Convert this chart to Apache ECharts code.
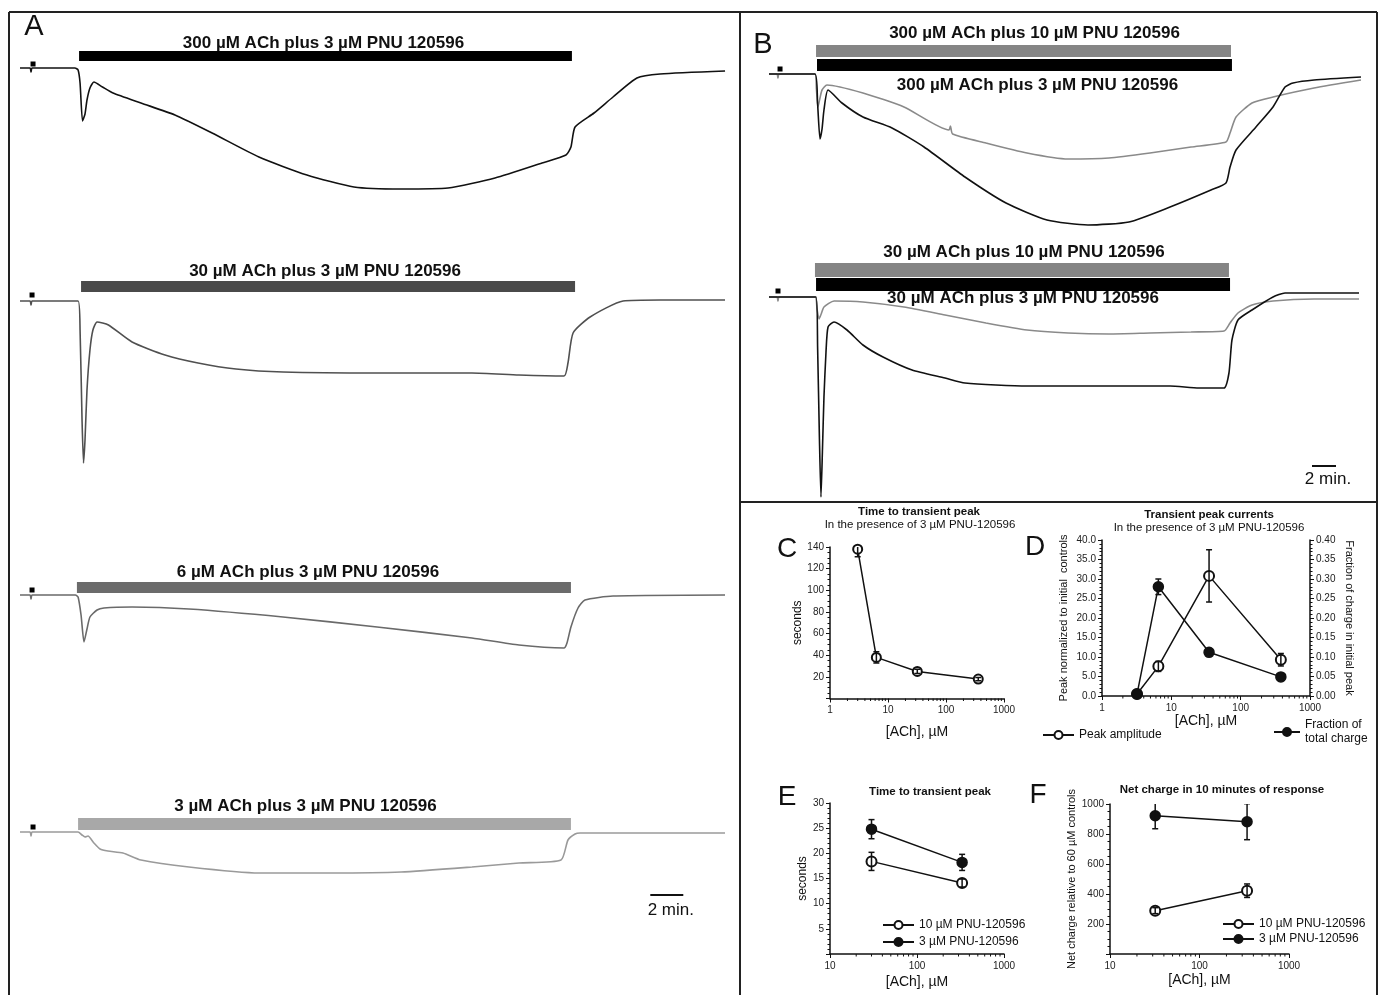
<!DOCTYPE html>
<html><head><meta charset="utf-8">
<script src="https://cdn.jsdelivr.net/npm/echarts@6/dist/echarts.min.js"></script>
<style>html,body{margin:0;padding:0;background:#fff}#c{width:1379px;height:995px}</style>
</head><body><div id="c"></div><script>
// ---------------- DATA ----------------
// Panel A traces: [time (min), current (arbitrary units, inward = negative)]
const traceA300 = [[0,0],[0.61,0],[0.67,-0.4],[0.73,0],[3.33,0],[3.52,-0.2],[3.64,-1.5],[3.79,-5.3],[3.94,-4.6],[4.06,-3.2],[4.24,-2.0],[4.48,-1.4],[5.0,-1.9],[5.64,-2.5],[7.33,-3.5],[9.39,-4.7],[11.64,-6.5],[14.48,-8.9],[17.39,-10.7],[20.24,-11.9],[23.09,-12.1],[25.94,-12.0],[28.79,-11.0],[31.64,-9.5],[33.09,-8.7],[33.39,-7.9],[33.64,-5.9],[34.79,-4.5],[35.94,-2.9],[37.39,-1.0],[38.79,-0.6],[42.73,-0.3]];
const traceA30 = [[0,0],[0.61,0],[0.67,-0.4],[0.73,0],[3.52,0],[3.64,-2.9],[3.76,-11.9],[3.85,-16.2],[3.94,-13.9],[4.06,-8.9],[4.24,-4.9],[4.42,-2.9],[4.67,-2.1],[5.36,-2.4],[6.79,-4.1],[8.79,-5.4],[10.79,-6.2],[13.09,-6.8],[15.94,-7.1],[21.64,-7.2],[27.39,-7.2],[30.24,-7.4],[32.97,-7.5],[33.21,-6.2],[33.52,-3.2],[34.55,-1.6],[36.55,0],[38.79,0.1],[42.73,0.1]];
const traceA6 = [[0,0],[0.61,0],[0.67,-0.4],[0.73,0],[3.36,0],[3.52,-0.2],[3.7,-2.0],[3.88,-4.7],[4.06,-3.4],[4.24,-2.2],[4.67,-1.5],[5.09,-1.3],[6.79,-1.2],[10.24,-1.4],[15.94,-2.2],[21.64,-3.2],[27.39,-4.3],[30.24,-5.0],[32.97,-5.3],[33.15,-4.8],[33.39,-3.2],[33.82,-1.3],[34.24,-0.5],[35.94,-0.1],[42.73,0]];
const traceA3 = [[0,0],[0.61,0],[0.67,-0.4],[0.73,0],[3.52,0],[3.76,-0.3],[3.94,-0.5],[4.12,-0.4],[4.48,-1.1],[4.85,-1.7],[5.33,-1.9],[6.24,-2.1],[7.33,-2.8],[10.24,-3.5],[14.48,-4.1],[18.79,-4.1],[23.09,-4.0],[27.39,-3.5],[30.24,-3.1],[32.79,-2.8],[33.21,-0.8],[33.64,-0.2],[33.94,-0.1],[42.73,-0.1]];
// Panel B traces
const traceB300PNU10 = [[0,0],[0.67,0],[0.75,-0.4],[0.83,0],[3.83,0],[3.95,-1.5],[4.08,-3.3],[4.25,-2.4],[4.42,-1.6],[4.83,-1.1],[7.83,-1.9],[11.25,-3.3],[15.0,-5.6],[15.12,-5.2],[15.3,-6.0],[18.08,-6.9],[21.5,-7.9],[24.92,-8.5],[28.33,-8.4],[31.75,-7.9],[35.17,-7.3],[38.08,-6.8],[38.42,-5.9],[38.92,-4.3],[40.25,-2.9],[42.0,-2.3],[45.42,-1.4],[49.33,-0.6]];
const traceB300PNU3 = [[0,0],[3.83,0],[4.05,-3.0],[4.25,-6.5],[4.42,-5.5],[4.58,-3.6],[4.92,-1.6],[6.08,-2.9],[7.83,-4.3],[10.25,-5.4],[12.92,-7.3],[16.33,-10.3],[19.75,-12.9],[23.17,-14.6],[26.58,-15.1],[30.0,-14.8],[33.42,-13.3],[36.83,-11.6],[38.08,-10.9],[38.42,-9.3],[38.92,-7.6],[40.58,-5.3],[42.0,-3.3],[43.0,-1.3],[43.67,-0.9],[45.42,-0.6],[49.33,-0.3]];
const traceB30PNU10 = [[0,0],[0.67,0],[0.75,-0.4],[0.83,0],[3.83,0],[4.0,-1.2],[4.17,-2.2],[4.35,-1.7],[4.58,-1.0],[5.42,-0.4],[7.83,-0.5],[11.25,-1.0],[14.67,-1.8],[18.08,-2.6],[21.5,-3.3],[24.92,-3.6],[28.33,-3.7],[31.75,-3.6],[35.17,-3.5],[37.92,-3.4],[38.42,-2.6],[39.08,-1.6],[40.25,-0.8],[42.0,-0.4],[45.42,-0.2],[49.17,-0.2]];
const traceB30PNU3 = [[0,0],[3.92,0],[4.05,-5.0],[4.2,-14.0],[4.33,-20.0],[4.45,-15.5],[4.58,-10.0],[4.75,-5.5],[4.92,-3.0],[5.42,-2.5],[6.5,-3.3],[7.83,-4.8],[9.5,-6.0],[11.92,-7.3],[14.67,-8.1],[16.33,-8.6],[21.5,-8.9],[28.33,-8.9],[33.42,-8.9],[35.83,-9.1],[37.92,-9.1],[38.33,-7.6],[38.58,-4.3],[39.08,-2.3],[40.25,-1.3],[42.0,0],[43.0,0.4],[45.42,0.4],[49.17,0.4]];
// Drug application windows [start, end] (min)
const appA = [[3.58,33.45],[3.70,33.64],[3.45,33.39],[3.52,33.39]];
const appB300 = [[3.92,38.5],[4.0,38.58]];
const appB30 = [[3.83,38.33],[3.92,38.42]];
const labelsA = ['300 µM ACh plus 3 µM PNU 120596','30 µM ACh plus 3 µM PNU 120596','6 µM ACh plus 3 µM PNU 120596','3 µM ACh plus 3 µM PNU 120596'];
const labelsB300 = ['300 µM ACh plus 10 µM PNU 120596','300 µM ACh plus 3 µM PNU 120596'];
const labelsB30 = ['30 µM ACh plus 10 µM PNU 120596','30 µM ACh plus 3 µM PNU 120596'];
const controlPulseA = [0.79,0.73,0.73,0.79];
const controlPulseB = [0.92,0.75];
const scaleBarMinutes = 2;
const scaleBarLabel = '2 min.';
// Panel C
const concC = [3, 6.3, 32, 360];
const ttpC = [138, 38, 25, 18];
const ttpCErr = [7, 5.3, 2, 1.5];
// Panel D
const concD = [3.2, 6.5, 35, 380];
const peakAmpD = [0.5, 7.6, 30.8, 9.3];
const peakAmpDErr = [0, 1.3, 6.7, 1.6];
const fracChargeD = [0.005, 0.28, 0.112, 0.049];
const fracChargeDErr = [0, 0.02, 0, 0];
// Panel E
const concE = [30, 330];
const ttpE10 = [18.4, 14.1];
const ttpE10Err = [1.8, 0.8];
const ttpE3 = [24.8, 18.2];
const ttpE3Err = [1.9, 1.6];
// Panel F
const concF = [32, 340];
const chargeF10 = [289, 422];
const chargeF10Err = [20, 45];
const chargeF3 = [922, 882];
const chargeF3Err = [87, 120];
// log minor tick values
const minorTicks1to1000 = [2,3,4,5,6,7,8,9,20,30,40,50,60,70,80,90,200,300,400,500,600,700,800,900];
const minorTicks10to1000 = [20,30,40,50,60,70,80,90,200,300,400,500,600,700,800,900];

// ---------------- LAYOUT ----------------
const FONT = '"Liberation Sans", Arial, Helvetica, sans-serif';
const PXU = 10; // px per current unit
const traceGrids = [
  {left:20, width:709.5, tmax:43, top:35, h:165, base:68},
  {left:20, width:709.5, tmax:43, top:255, h:220, base:301},
  {left:20, width:709.5, tmax:43, top:555, h:105, base:595},
  {left:20, width:709.5, tmax:43, top:790, h:140, base:832},
  {left:769, width:600, tmax:50, top:20, h:215, base:74},
  {left:769, width:600, tmax:50, top:240, h:260, base:297}
];
const barSpecsA = [
  [{y:51,h:10,ly:43,dx:-2,color:'#000'}],
  [{y:281,h:11,ly:271,dx:-3,color:'#4a4a4a'}],
  [{y:582,h:11,ly:572,dx:-16,color:'#6b6b6b'}],
  [{y:818,h:12,ly:806,dx:-19,color:'#a8a8a8'}]
];
const barSpecsB300 = [{y:45,h:12,ly:33,dx:11,color:'#858585'},{y:59,h:12,ly:85,dx:13,color:'#000'}];
const barSpecsB30 = [{y:263,h:14,ly:252,dx:2,color:'#858585'},{y:278,h:13,ly:298,dx:0,color:'#000'}];
const pulseLift = [4,6,5,5,5,6];

const grids = [], xAxes = [], yAxes = [], series = [];
traceGrids.forEach((g,i)=>{
  grids.push({left:g.left, top:g.top, width:g.width, height:g.h});
  xAxes.push({type:'value', gridIndex:i, min:0, max:g.tmax, show:false});
  yAxes.push({type:'value', gridIndex:i, max:(g.base-g.top)/PXU, min:-(g.top+g.h-g.base)/PXU, show:false});
});

function traceSeries(gi, data, color, w){
  return {type:'line', xAxisIndex:gi, yAxisIndex:gi, data:data, showSymbol:false, symbol:'none',
    smooth:0.2, silent:true, z:4, lineStyle:{color:color, width:w||1.6}};
}
function barSeries(gi, windows, specs, labels){
  return {type:'custom', xAxisIndex:gi, yAxisIndex:gi, silent:true, z:3,
    data: windows.map((w,i)=>[w[0], w[1], i]),
    encode:{x:[0,1]},
    renderItem:(p, api)=>{
      const i = api.value(2), sp = specs[i];
      const s = api.coord([api.value(0),0]), e = api.coord([api.value(1),0]);
      return {type:'group', children:[
        {type:'rect', shape:{x:s[0], y:sp.y, width:e[0]-s[0], height:sp.h}, style:{fill:sp.color}},
        {type:'text', x:(s[0]+e[0])/2+sp.dx, y:sp.ly, style:{text:labels[i], font:'bold 17px '+FONT, fill:'#111', align:'center', verticalAlign:'middle', textAlign:'center', textVerticalAlign:'middle'}}
      ]};
    }};
}
function pulseSeries(gi, t, lift){
  return {type:'custom', xAxisIndex:gi, yAxisIndex:gi, silent:true, z:5, data:[[t,0]],
    renderItem:(p,api)=>{const c = api.coord([api.value(0), api.value(1)]);
      return {type:'rect', shape:{x:c[0]-2.5, y:c[1]-lift-2.5, width:5, height:5}, style:{fill:'#000'}};}};
}
function scaleSeries(gi, t0, y, ty){
  return {type:'custom', xAxisIndex:gi, yAxisIndex:gi, silent:true, z:5, data:[[t0, t0+scaleBarMinutes]],
    encode:{x:[0,1]},
    renderItem:(p,api)=>{const s = api.coord([api.value(0),0]), e = api.coord([api.value(1),0]);
      return {type:'group', children:[
        {type:'line', shape:{x1:s[0], y1:y, x2:e[0], y2:y}, style:{stroke:'#111', lineWidth:2}},
        {type:'text', x:(s[0]+e[0])/2+4, y:ty, style:{text:scaleBarLabel, font:'17px '+FONT, fill:'#111', align:'center', verticalAlign:'middle', textAlign:'center', textVerticalAlign:'middle'}}
      ]};}};
}

// Panel A
[traceA300, traceA30, traceA6, traceA3].forEach((tr,i)=>{
  const colors = ['#111','#505050','#6a6a6a','#9a9a9a'];
  series.push(traceSeries(i, tr, colors[i]));
  series.push(barSeries(i, [appA[i]], barSpecsA[i], [labelsA[i]]));
  series.push(pulseSeries(i, controlPulseA[i], pulseLift[i]));
});
series.push(scaleSeries(3, 38.2, 895, 910));
// Panel B
series.push(traceSeries(4, traceB300PNU10, '#8a8a8a'));
series.push(traceSeries(4, traceB300PNU3, '#111'));
series.push(barSeries(4, appB300, barSpecsB300, labelsB300));
series.push(pulseSeries(4, controlPulseB[0], pulseLift[4]));
series.push(traceSeries(5, traceB30PNU10, '#8a8a8a'));
series.push(traceSeries(5, traceB30PNU3, '#111'));
series.push(barSeries(5, appB30, barSpecsB30, labelsB30));
series.push(pulseSeries(5, controlPulseB[1], pulseLift[5]));
series.push(scaleSeries(5, 45.25, 466, 479));

// ---------- small plots ----------
const AX = '#111';
function logX(gi, min, max, gap){
  return {type:'log', logBase:10, gridIndex:gi, min:min, max:max,
    name:'[ACh], µM', nameLocation:'middle', nameGap:gap,
    nameTextStyle:{fontSize:14, color:'#111', fontFamily:FONT},
    axisLine:{show:true, onZero:false, lineStyle:{color:AX, width:1.5}},
    axisTick:{show:true, inside:false, length:4, lineStyle:{color:AX, width:1}},
    minorTick:{show:false}, splitLine:{show:false},
    axisLabel:{fontSize:10, color:'#222', margin:7, fontFamily:FONT, formatter:v=>String(Math.round(v))}};
}
function valY(gi, min, max, interval, minorSplit, name, gap, fmt, pos, rot, nameSize){
  return {type:'value', gridIndex:gi, min:min, max:max, interval:interval, position:pos||'left',
    name:name, nameLocation:'middle', nameGap:gap, nameRotate:rot,
    nameTextStyle:{fontSize:nameSize||12, color:'#111', fontFamily:FONT},
    axisLine:{show:true, onZero:false, lineStyle:{color:AX, width:1.5}},
    axisTick:{show:true, inside:false, length:4, lineStyle:{color:AX, width:1}},
    minorTick:{show:true, splitNumber:minorSplit, length:2.5, lineStyle:{color:AX, width:1}},
    splitLine:{show:false}, minorSplitLine:{show:false},
    axisLabel:{fontSize:10, color:'#222', margin:6, fontFamily:FONT, formatter:fmt}};
}
const hide0 = v => v===0 ? '' : String(v);
// grids 6..9
grids.push({left:830, top:547, width:174, height:151.5});   // C
grids.push({left:1102, top:540, width:208, height:156});    // D
grids.push({left:830, top:803, width:174, height:151});     // E
grids.push({left:1110, top:804, width:179, height:150});    // F
xAxes.push(logX(6, 1, 1000, 27));
xAxes.push(logX(7, 1, 1000, 15));
xAxes.push(logX(8, 10, 1000, 21));
xAxes.push(logX(9, 10, 1000, 19));
yAxes.push(valY(6, 0, 140, 20, 4, 'seconds', 18, hide0, 'left', 90, 12));                       // 6
yAxes.push(valY(7, 0, 40, 5, 5, 'Peak normalized to initial  controls', 33, v=>v.toFixed(1), 'left', 90, 11)); // 7
yAxes.push(valY(7, 0, 0.4, 0.05, 5, 'Fraction of charge in initial peak', 34, v=>v.toFixed(2), 'right', -90, 11)); // 8
yAxes.push(valY(8, 0, 30, 5, 5, 'seconds', 20, hide0, 'left', 90, 12));                          // 9
yAxes.push(valY(9, 0, 1000, 200, 4, 'Net charge relative to 60 µM controls', 25, hide0, 'left', 90, 11)); // 10

function minorLog(xi, yi, vals){
  return {type:'custom', xAxisIndex:xi, yAxisIndex:yi, silent:true, z:2, data:vals.map(v=>[v,0]),
    renderItem:(p,api)=>{const c = api.coord([api.value(0), api.value(1)]);
      return {type:'line', shape:{x1:c[0], y1:c[1], x2:c[0], y2:c[1]+2.5}, style:{stroke:AX, lineWidth:1}};}};
}
function errSeries(xi, yi, xs, ys, err){
  return {type:'custom', xAxisIndex:xi, yAxisIndex:yi, silent:true, z:6, clip:true,
    data: xs.map((x,i)=>[x, ys[i]-err[i], ys[i]+err[i]]).filter((d,i)=>err[i]>0),
    encode:{x:0, y:[1,2]},
    renderItem:(p,api)=>{
      const lo = api.coord([api.value(0), api.value(1)]), hi = api.coord([api.value(0), api.value(2)]);
      const st = {stroke:'#111', lineWidth:1.5}, w = 3;
      return {type:'group', children:[
        {type:'line', shape:{x1:lo[0], y1:lo[1], x2:hi[0], y2:hi[1]}, style:st},
        {type:'line', shape:{x1:lo[0]-w, y1:lo[1], x2:lo[0]+w, y2:lo[1]}, style:st},
        {type:'line', shape:{x1:hi[0]-w, y1:hi[1], x2:hi[0]+w, y2:hi[1]}, style:st}
      ]};
    }};
}
function pts(name, xi, yi, xs, ys, filled, size){
  return {type:'line', name:name, xAxisIndex:xi, yAxisIndex:yi, data:xs.map((x,i)=>[x, ys[i]]),
    symbol: filled ? 'circle' : 'emptyCircle', symbolSize:size||10, showSymbol:true, z:5,
    lineStyle:{color:'#111', width:1.5},
    itemStyle:{color:'#111', borderColor:'#111', borderWidth:1.5}};
}
// C
series.push(minorLog(6, 6, minorTicks1to1000));
series.push(pts('C', 6, 6, concC, ttpC, false, 9));
series.push(errSeries(6, 6, concC, ttpC, ttpCErr));
// D
series.push(minorLog(7, 7, minorTicks1to1000));
series.push(pts('Peak amplitude', 7, 7, concD, peakAmpD, false, 10));
series.push(pts('Fraction of\ntotal charge', 7, 8, concD, fracChargeD, true, 10));
series.push(errSeries(7, 7, concD, peakAmpD, peakAmpDErr));
series.push(errSeries(7, 8, concD, fracChargeD, fracChargeDErr));
// E
series.push(minorLog(8, 9, minorTicks10to1000));
series.push(pts('10 µM PNU-120596', 8, 9, concE, ttpE10, false, 10));
series.push(pts('3 µM PNU-120596', 8, 9, concE, ttpE3, true, 10));
series.push(errSeries(8, 9, concE, ttpE10, ttpE10Err));
series.push(errSeries(8, 9, concE, ttpE3, ttpE3Err));
// F
series.push(minorLog(9, 10, minorTicks10to1000));
series.push(pts('10 µM PNU-120596', 9, 10, concF, chargeF10, false, 10));
series.push(pts('3 µM PNU-120596', 9, 10, concF, chargeF3, true, 10));
series.push(errSeries(9, 10, concF, chargeF10, chargeF10Err));
series.push(errSeries(9, 10, concF, chargeF3, chargeF3Err));

const legStyle = {fontSize:12, color:'#111', fontFamily:FONT, lineHeight:14};
const legends = [
  {data:['Peak amplitude'], left:1042, top:728, itemWidth:31, itemHeight:10, itemGap:4, selectedMode:false, textStyle:legStyle, padding:0},
  {data:['Fraction of\ntotal charge'], left:1273, top:718, itemWidth:26, itemHeight:10, selectedMode:false, textStyle:legStyle, padding:0},
  {data:['10 µM PNU-120596','3 µM PNU-120596'], orient:'vertical', left:882, top:918, itemWidth:31, itemHeight:10, itemGap:3, selectedMode:false, textStyle:legStyle, padding:0},
  {data:['10 µM PNU-120596','3 µM PNU-120596'], orient:'vertical', left:1222, top:917, itemWidth:31, itemHeight:10, itemGap:1, selectedMode:false, textStyle:legStyle, padding:0}
];

function gtext(x, y, text, font){
  return {type:'text', x:x, y:y, silent:true, style:{text:text, font:font, fill:'#111', align:'center', verticalAlign:'middle', textAlign:'center', textVerticalAlign:'middle'}};
}
function gline(x1,y1,x2,y2){
  return {type:'line', silent:true, shape:{x1,y1,x2,y2}, style:{stroke:'#222', lineWidth:2}};
}
const graphic = [
  gline(9,12,1377,12), gline(9,12,9,995), gline(1377,12,1377,995), gline(740,12,740,995), gline(740,502,1377,502),
  gtext(34,27,'A','29px '+FONT), gtext(763,45,'B','29px '+FONT),
  gtext(787,549,'C','28px '+FONT), gtext(1035,547,'D','28px '+FONT),
  gtext(787,797,'E','28px '+FONT), gtext(1038,795,'F','28px '+FONT),
  gtext(919,512,'Time to transient peak','bold 11.5px '+FONT),
  gtext(920,525,'In the presence of 3 µM PNU-120596','11.5px '+FONT),
  gtext(1209,515,'Transient peak currents','bold 11.5px '+FONT),
  gtext(1209,528,'In the presence of 3 µM PNU-120596','11.5px '+FONT),
  gtext(930,792,'Time to transient peak','bold 11.5px '+FONT),
  gtext(1222,790,'Net charge in 10 minutes of response','bold 11.5px '+FONT)
];

const chart = echarts.init(document.getElementById('c'), null, {renderer:'canvas'});
chart.setOption({
  animation:false, backgroundColor:'#fff',
  textStyle:{fontFamily:FONT},
  grid:grids, xAxis:xAxes, yAxis:yAxes, series:series, legend:legends,
  graphic:{elements:graphic}
});
</script></body></html>
